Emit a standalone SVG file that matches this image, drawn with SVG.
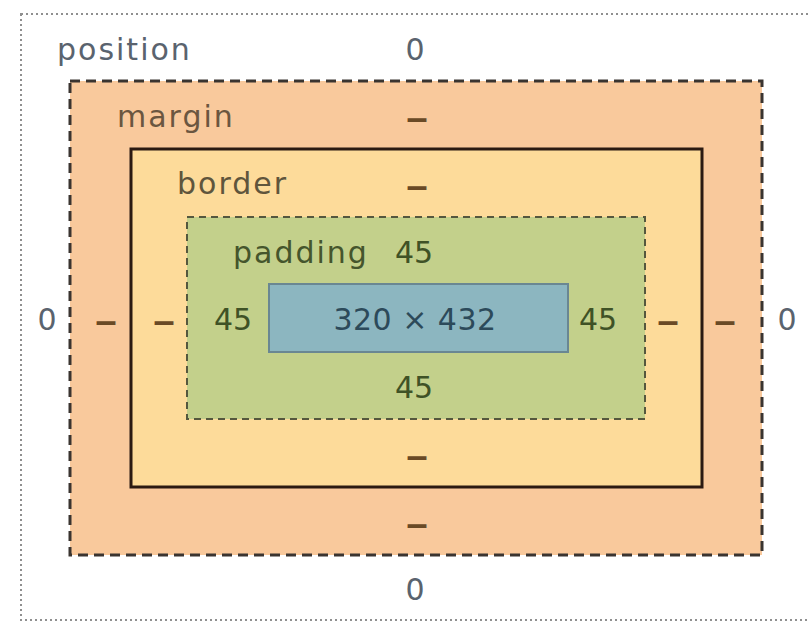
<svg xmlns="http://www.w3.org/2000/svg" width="808" height="623" viewBox="0 0 808 623">
<style>
text{font-family:"DejaVu Sans","Liberation Sans",sans-serif;font-size:30px}
.lbl{letter-spacing:2px}
.c{text-anchor:middle}
.pos{fill:#5a636e}
.mar{fill:#6b5640}
.bor{fill:#5f553c}
.pad{fill:#45552c}
.num{fill:#3f5226}
.dash{fill:#6a4a26;font-weight:bold}
.cnt{fill:#2c4a5a;letter-spacing:0.5px}
</style>
<rect width="808" height="623" fill="#ffffff"/>
<g id="position">
<rect x="21" y="14" width="800" height="606" fill="none" stroke="#8f8f8f" stroke-width="2" stroke-dasharray="2 3"/>
<text class="lbl pos" x="57" y="60">position</text>
<text class="c pos" x="415" y="60">0</text>
<text class="c pos" x="47" y="330">0</text>
<text class="c pos" x="787" y="330">0</text>
<text class="c pos" x="415" y="600">0</text>
</g>
<g id="margin">
<rect x="70" y="81" width="692" height="474" fill="#f9c99c" stroke="#3a3430" stroke-width="3" stroke-dasharray="10 6"/>
<text class="lbl mar" x="117" y="127">margin</text>
<text class="c dash" x="417" y="128" textLength="24" lengthAdjust="spacingAndGlyphs">–</text>
<text class="c dash" x="106" y="331" textLength="24" lengthAdjust="spacingAndGlyphs">–</text>
<text class="c dash" x="725" y="331" textLength="24" lengthAdjust="spacingAndGlyphs">–</text>
<text class="c dash" x="417" y="534" textLength="24" lengthAdjust="spacingAndGlyphs">–</text>
</g>
<g id="border">
<rect x="131" y="149" width="571" height="338" fill="#fddb9a" stroke="#2b1a12" stroke-width="3"/>
<text class="lbl bor" x="177" y="194">border</text>
<text class="c dash" x="417" y="196" textLength="24" lengthAdjust="spacingAndGlyphs">–</text>
<text class="c dash" x="164" y="331" textLength="24" lengthAdjust="spacingAndGlyphs">–</text>
<text class="c dash" x="668" y="331" textLength="24" lengthAdjust="spacingAndGlyphs">–</text>
<text class="c dash" x="417" y="466" textLength="24" lengthAdjust="spacingAndGlyphs">–</text>
</g>
<g id="padding">
<rect x="187" y="217" width="458" height="202" fill="#c3d08b" stroke="#55573e" stroke-width="2" stroke-dasharray="7 5"/>
<text class="lbl pad" x="233" y="263">padding</text>
<text class="c num" x="414" y="263">45</text>
<text class="c num" x="233" y="330">45</text>
<text class="c num" x="598" y="330">45</text>
<text class="c num" x="414" y="398">45</text>
</g>
<g id="content">
<rect x="269" y="284" width="299" height="68" fill="#8cb6c0" stroke="#6a8792" stroke-width="2"/>
<text class="c cnt" x="415" y="330">320 × 432</text>
</g>
<g id="connectors"/>
</svg>
